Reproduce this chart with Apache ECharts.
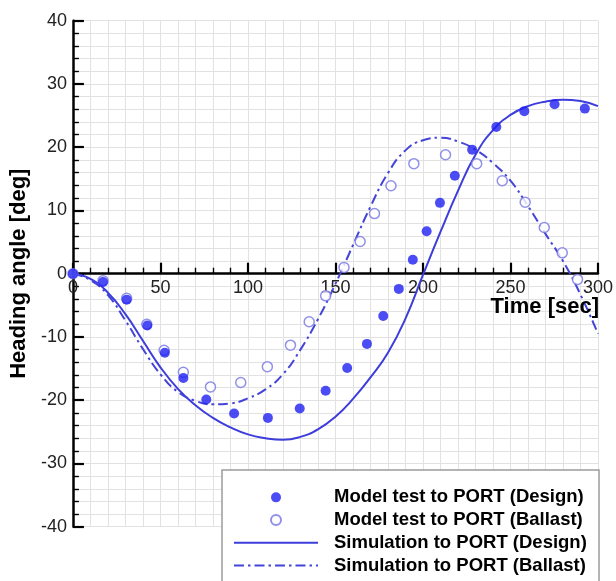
<!DOCTYPE html>
<html>
<head>
<meta charset="utf-8">
<script src="https://cdn.jsdelivr.net/npm/echarts@6/dist/echarts.min.js"></script>
<style>
  html, body { margin: 0; padding: 0; background: #ffffff; }
  #chart { width: 616px; height: 581px; }
</style>
</head>
<body>
<div id="chart"></div>
<script>
// Model test, turning to PORT, design loading (time in s, heading in deg)
const designTestTime  = [0, 17.2, 30.7, 42.5, 52.5, 63.1, 76.2, 92.1, 111.4, 129.6, 144.4, 156.7, 168, 177.3, 186.2, 194.2, 202.1, 209.7, 218.2, 228.1, 241.9, 257.9, 275.2, 292.5];
const designTestAngle = [0, -1.3, -4.1, -8.2, -12.5, -16.5, -19.9, -22.1, -22.8, -21.3, -18.5, -14.9, -11.1, -6.7, -2.4, 2.2, 6.7, 11.2, 15.5, 19.6, 23.2, 25.7, 26.8, 26.1];

// Model test, turning to PORT, ballast loading
const ballastTestTime  = [0, 17.2, 30.7, 42.2, 52.1, 63.1, 78.6, 95.9, 111.1, 124.3, 135, 144.4, 154.9, 164.1, 172.3, 181.7, 194.8, 212.9, 230.7, 245.3, 258.4, 269.3, 279.6, 288.3];
const ballastTestAngle = [0, -1.1, -3.9, -8.0, -12.1, -15.6, -17.9, -17.2, -14.7, -11.3, -7.6, -3.5, 1.0, 5.1, 9.5, 13.9, 17.4, 18.8, 17.4, 14.7, 11.3, 7.3, 3.3, -0.9];

// Simulation results sampled every 10 s
const simTime          = [0, 10, 20, 30, 40, 50, 60, 70, 80, 90, 100, 110, 120, 130, 140, 150, 160, 170, 180, 190, 200, 210, 220, 230, 240, 250, 260, 270, 280, 290, 300];
const simDesignAngle   = [0, -0.8, -3.0, -6.4, -10.6, -14.8, -18.2, -20.8, -22.8, -24.3, -25.4, -26.0, -26.25, -25.8, -24.6, -22.6, -19.8, -16.4, -12.5, -7.1, -0.2, 6.6, 13.1, 18.8, 22.7, 25.1, 26.5, 27.2, 27.5, 27.3, 26.5];
const simBallastAngle  = [0, -1.0, -3.4, -7.4, -11.9, -15.9, -18.7, -20.1, -20.65, -20.5, -19.7, -18.3, -15.9, -12.0, -7.2, -1.6, 4.5, 10.6, 15.9, 19.5, 21.1, 21.5, 20.9, 19.6, 17.5, 14.7, 10.7, 6.3, 2.0, -3.3, -9.5];

const seriesNames = [
  'Model test to PORT (Design)',
  'Model test to PORT (Ballast)',
  'Simulation to PORT (Design)',
  'Simulation to PORT (Ballast)'
];
const xAxisTitle = 'Time [sec]';
const yAxisTitle = 'Heading angle [deg]';

const pairs = (xs, ys) => xs.map((x, i) => [x, ys[i]]);

const FONT = '"Liberation Sans", Arial, Helvetica, sans-serif';
const GRID_TOP = 20.7, GRID_BOTTOM = 54.3, HEIGHT = 581;
const Y_MIN = -40, Y_MAX = 40;
// shift the time axis up so that it sits on the zero heading line
const plotH = HEIGHT - GRID_TOP - GRID_BOTTOM;
const zeroShift = -plotH * (0 - Y_MIN) / (Y_MAX - Y_MIN);

const chart = echarts.init(document.getElementById('chart'), null, { renderer: 'canvas' });

// legend entries for the curves show the line only
const hiddenMarker = { color: 'rgba(0,0,0,0)', borderWidth: 0, opacity: 0 };

chart.setOption({
  backgroundColor: '#ffffff',
  animation: false,
  grid: { left: 66, right: 16, top: GRID_TOP, bottom: GRID_BOTTOM, containLabel: false },
  xAxis: {
    type: 'value',
    min: 0, max: 300, interval: 50,
    offset: zeroShift,
    axisLine: { onZero: false, lineStyle: { color: '#000', width: 2.5 } },
    axisTick: { inside: true, length: 11, lineStyle: { color: '#000', width: 2.2 } },
    minorTick: { show: true, splitNumber: 5, length: 6, lineStyle: { color: '#000', width: 1.4 } },
    axisLabel: { color: '#222', fontSize: 18, fontFamily: FONT, margin: 5 },
    splitLine: { show: true, lineStyle: { color: '#e2e2e2', width: 1 } },
    minorSplitLine: { show: true, lineStyle: { color: '#e2e2e2', width: 1 } }
  },
  yAxis: {
    type: 'value',
    min: Y_MIN, max: Y_MAX, interval: 10,
    name: yAxisTitle,
    nameLocation: 'middle',
    nameRotate: 90,
    nameGap: 31,
    nameTextStyle: { color: '#000', fontSize: 22, fontWeight: 'bold', fontFamily: FONT },
    axisLine: { onZero: false, lineStyle: { color: '#000', width: 2.5 } },
    axisTick: { inside: true, length: 11, lineStyle: { color: '#000', width: 2.2 } },
    minorTick: { show: true, splitNumber: 5, length: 6, lineStyle: { color: '#000', width: 1.4 } },
    axisLabel: { color: '#222', fontSize: 18, fontFamily: FONT, margin: 6 },
    splitLine: { show: true, lineStyle: { color: '#e2e2e2', width: 1 } },
    minorSplitLine: { show: true, lineStyle: { color: '#e2e2e2', width: 1 } }
  },
  legend: {
    data: [
      { name: seriesNames[0] },
      { name: seriesNames[1] },
      { name: seriesNames[2], itemStyle: hiddenMarker },
      { name: seriesNames[3], itemStyle: hiddenMarker }
    ],
    orient: 'vertical',
    left: 233,
    top: 486,
    padding: 0,
    itemGap: 0,
    itemWidth: 84,
    itemHeight: 10,
    selectedMode: false,
    textStyle: {
      color: '#000', fontSize: 18.5, fontWeight: 'bold', fontFamily: FONT,
      lineHeight: 22.7, padding: [0, 0, 0, 11]
    },
    z: 6
  },
  graphic: [
    {
      type: 'rect',
      z: 5,
      shape: { x: 222, y: 470, width: 377, height: 140 },
      style: { fill: '#ffffff', stroke: '#9c9c9c', lineWidth: 1.5 }
    },
    {
      type: 'text',
      z: 7,
      x: 599, y: 307,
      style: {
        text: xAxisTitle, fill: '#000', font: 'bold 22px ' + FONT,
        align: 'right', verticalAlign: 'middle'
      }
    }
  ],
  series: [
    {
      name: seriesNames[2],
      type: 'line',
      data: pairs(simTime, simDesignAngle),
      smooth: 0.5,
      symbol: 'none',
      lineStyle: { color: '#3d3ddc', width: 2 },
      itemStyle: { color: '#3d3ddc' },
      z: 2
    },
    {
      name: seriesNames[3],
      type: 'line',
      data: pairs(simTime, simBallastAngle),
      smooth: 0.5,
      symbol: 'none',
      lineStyle: { color: '#4444d8', width: 2, type: [10, 4, 2.5, 4] },
      itemStyle: { color: '#4444d8' },
      z: 2
    },
    {
      name: seriesNames[1],
      type: 'scatter',
      data: pairs(ballastTestTime, ballastTestAngle),
      symbol: 'circle',
      symbolSize: 10,
      itemStyle: { color: '#ffffff', borderColor: '#7676e4', borderWidth: 1.5 },
      z: 3
    },
    {
      name: seriesNames[0],
      type: 'scatter',
      data: pairs(designTestTime, designTestAngle),
      symbol: 'circle',
      symbolSize: 10,
      itemStyle: { color: '#1f1ff2' },
      z: 4
    }
  ]
});
</script>
</body>
</html>
